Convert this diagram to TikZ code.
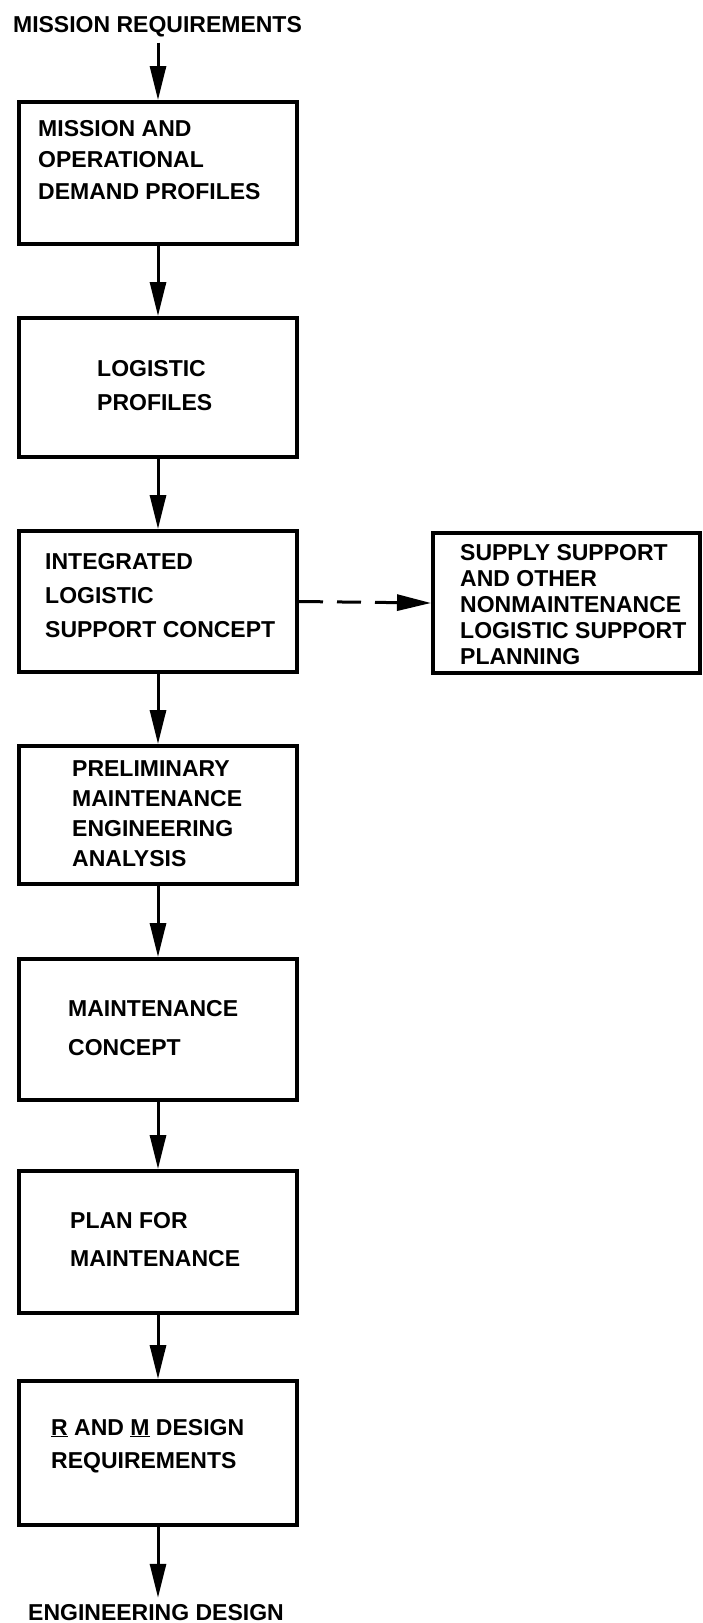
\documentclass[tikz,border=0pt]{standalone}
\usepackage{fontspec}
\setmainfont{Liberation Sans}
\usetikzlibrary{arrows.meta}
\begin{document}
\begin{tikzpicture}[x=1pt,y=-1pt,
  box/.style={draw,line width=4pt,minimum width=278pt,inner sep=0pt},
  sidebox/.style={draw,line width=4pt,minimum width=267pt,minimum height=140pt,inner sep=0pt},
  txt/.style={anchor=north west,inner sep=0pt,align=left},
  lbl/.style={anchor=base,inner sep=0pt,font=\bfseries\fontsize{23}{26}\selectfont},
  flow/.style={line width=3pt,-{Triangle[length=34pt,width=16pt]}},
  ]
\useasboundingbox (0,0) rectangle (703,1623);
% labels
\node[lbl] (top) at (157.5,32) {MISSION REQUIREMENTS};
\node[lbl] (bot) at (156,1620) {ENGINEERING DESIGN};
% boxes
\node[box,minimum height=142pt] (b1) at (158,173) {};
\node[box,minimum height=139pt] (b2) at (158,387.5) {};
\node[box,minimum height=141pt] (b3) at (158,601.5) {};
\node[box,minimum height=138pt] (b4) at (158,815) {};
\node[box,minimum height=141pt] (b5) at (158,1029.5) {};
\node[box,minimum height=142pt] (b6) at (158,1242) {};
\node[box,minimum height=144pt] (b7) at (158,1453) {};
\node[sidebox] (side) at (566.5,603) {};
% texts
\node[txt,font=\bfseries\fontsize{23}{31.5}\selectfont] (t1) at (38,120) {MISSION AND\\OPERATIONAL\\DEMAND PROFILES};
\node[txt,font=\bfseries\fontsize{23}{34}\selectfont] (t2) at (97,360) {LOGISTIC\\PROFILES};
\node[txt,font=\bfseries\fontsize{23}{34}\selectfont] (t3) at (45,553) {INTEGRATED\\LOGISTIC\\SUPPORT CONCEPT};
\node[txt,font=\bfseries\fontsize{23}{30}\selectfont] (t4) at (72,760) {PRELIMINARY\\MAINTENANCE\\ENGINEERING\\ANALYSIS};
\node[txt,font=\bfseries\fontsize{23}{39}\selectfont] (t5) at (68,1000) {MAINTENANCE\\CONCEPT};
\node[txt,font=\bfseries\fontsize{23}{38}\selectfont] (t6) at (70,1212) {PLAN FOR\\MAINTENANCE};
\node[txt,font=\bfseries\fontsize{23}{33}\selectfont] (t7) at (51,1419) {\underline{R} AND \underline{M} DESIGN\\REQUIREMENTS};
\node[txt,font=\bfseries\fontsize{23}{26}\selectfont] (ts) at (460,544) {SUPPLY SUPPORT\\AND OTHER\\NONMAINTENANCE\\LOGISTIC SUPPORT\\PLANNING};
% connectors
\draw[flow,shorten <=6pt] (top.south -| b1.north) -- (b1.north);
\draw[flow] (b1.south) -- (b2.north);
\draw[flow] (b2.south) -- (b3.north);
\draw[flow] (b3.south) -- (b4.north);
\draw[flow] (b4.south) -- (b5.north);
\draw[flow] (b5.south) -- (b6.north);
\draw[flow] (b6.south) -- (b7.north);
\draw[flow,shorten >=6pt] (b7.south) -- (b7.south |- bot.north);
\draw[flow,dash pattern=on 24pt off 14pt] (b3.east) -- (side.west);
\end{tikzpicture}
\end{document}
